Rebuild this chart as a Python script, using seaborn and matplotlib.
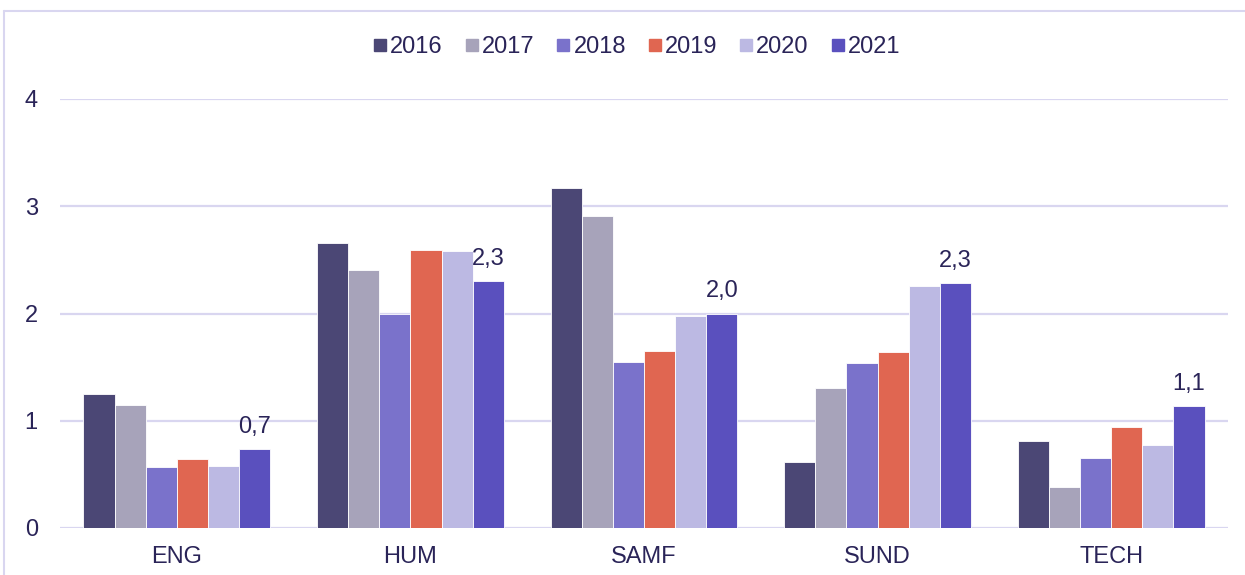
import matplotlib
matplotlib.use("Agg")
import matplotlib.pyplot as plt
from matplotlib.lines import Line2D
import pandas as pd
import seaborn as sns

categories = ["ENG", "HUM", "SAMF", "SUND", "TECH"]
years = ["2016", "2017", "2018", "2019", "2020", "2021"]
values = {
    "2016": [1.25, 2.66, 3.17, 0.62, 0.81],
    "2017": [1.15, 2.41, 2.91, 1.31, 0.38],
    "2018": [0.57, 2.00, 1.55, 1.54, 0.65],
    "2019": [0.64, 2.59, 1.65, 1.64, 0.94],
    "2020": [0.58, 2.58, 1.98, 2.26, 0.77],
    "2021": [0.74, 2.30, 2.00, 2.28, 1.14],
}
colors = ["#4B4775", "#A7A3BA", "#7A72CB", "#E06651", "#BCB9E3", "#5A50BE"]
text_color = "#2A2458"
grid_color = "#D9D6F0"
fs = 17

rows = [(c, y, values[y][i]) for y in years for i, c in enumerate(categories)]
df = pd.DataFrame(rows, columns=["område", "år", "værdi"])

sns.set_style("white")
plt.rcParams["font.family"] = ["Liberation Sans", "DejaVu Sans"]

fig = plt.figure(figsize=(12.45, 5.75), dpi=100)
ax = fig.add_axes([60 / 1245, 47 / 575, (1228 - 60) / 1245, (528 - 99) / 575])

sns.barplot(data=df, x="område", y="værdi", hue="år", hue_order=years,
            palette=colors, width=0.8, saturation=1, ax=ax, legend=False,
            edgecolor="white", linewidth=0.6)

ax.set_ylim(0, 4)
ax.set_yticks([0, 1, 2, 3, 4])
ax.grid(axis="y", color=grid_color, linewidth=1.6)
ax.set_axisbelow(True)
for s in ax.spines.values():
    s.set_visible(False)
ax.set_xlabel("")
ax.set_ylabel("")
ax.tick_params(axis="both", length=0, labelsize=fs, colors=text_color)
ax.tick_params(axis="y", pad=16)
ax.tick_params(axis="x", pad=13)

# value labels on the 2021 bars
last = ax.containers[-1]
for bar, v in zip(last, values["2021"]):
    ax.annotate(f"{v:.1f}".replace(".", ","),
                (bar.get_x() + bar.get_width() / 2, bar.get_height()),
                xytext=(0, 8), textcoords="offset points",
                ha="center", va="bottom", fontsize=fs, color=text_color)

handles = [Line2D([0], [0], marker="s", linestyle="", markersize=9,
                  markerfacecolor=c, markeredgecolor=c) for c in colors]
fig.legend(handles, years, loc="center", bbox_to_anchor=(637 / 1245, 1 - 47 / 575),
           ncol=6, frameon=False, fontsize=fs, handlelength=0.55,
           handletextpad=0.15, columnspacing=0.95, labelcolor=text_color)

# outer frame
fig.add_artist(Line2D([4 / 1245, 4 / 1245], [0, 1 - 11 / 575],
                      transform=fig.transFigure, color=grid_color, linewidth=1.5))
fig.add_artist(Line2D([4 / 1245, 1], [1 - 11 / 575, 1 - 11 / 575],
                      transform=fig.transFigure, color=grid_color, linewidth=1.5))

fig.savefig("out.png", dpi=100)
